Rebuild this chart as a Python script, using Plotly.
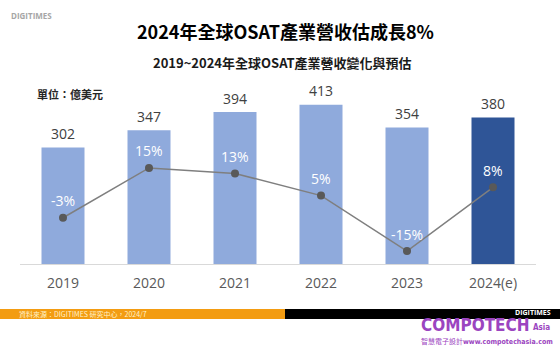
import plotly.graph_objects as go

years = ["2019", "2020", "2021", "2022", "2023", "2024(e)"]
revenue = [302, 347, 394, 413, 354, 380]
growth = [-3, 15, 13, 5, -15, 8]
bar_colors = ["#8faadc", "#8faadc", "#8faadc", "#8faadc", "#8faadc", "#2f5597"]

L, R, T, B = 20, 24, 100, 86
W, H = 560, 350
PW, PH = W - L - R, H - T - B

def px(x):
    return (x - L) / PW

def py(y):
    return (H - B - y) / PH

CJK = "Noto Sans CJK TC"
COND = "DejaVu Sans Condensed"

fig = go.Figure()
fig.add_trace(go.Bar(x=years, y=revenue, marker_color=bar_colors, marker_line_width=0,
                     yaxis="y", showlegend=False, hoverinfo="skip"))
fig.add_trace(go.Scatter(x=years, y=growth, yaxis="y2", mode="lines+markers",
                         line=dict(color="#7f7f7f", width=1.5),
                         marker=dict(color="#595959", size=8), showlegend=False))

ann = []
for i, v in enumerate(revenue):
    ann.append(dict(x=i, y=v, xref="x", yref="y", text=str(v), showarrow=False,
                    yshift=14, font=dict(family="Open Sans, " + CJK, size=14, color="#404040")))
for i, g in enumerate(growth):
    ann.append(dict(x=i, y=g, xref="x", yref="y2", text=f"{g}%", showarrow=False,
                    yshift=17, font=dict(family="Open Sans, " + CJK, size=14, color="#ffffff")))

def txt(x, y, text, font, xanchor="center"):
    return dict(x=px(x), y=py(y), xref="paper", yref="paper", showarrow=False,
                xanchor=xanchor, yanchor="middle", text=text, font=font)

ann += [
    txt(285, 31, "<b>2024年全球OSAT產業營收估成長8%</b>",
        dict(family=CJK, size=18, color="#000000")),
    txt(282, 62, "<b>2019~2024年全球OSAT產業營收變化與預估</b>",
        dict(family=CJK, size=13, color="#1a1a1a")),
    txt(35, 94, "<b>單位：億美元</b>", dict(family=CJK, size=11, color="#262626"), "left"),
    txt(9, 15, "<b>DIGITIMES</b>", dict(family="Open Sans", size=8, color="#a6a6a6"), "left"),
    txt(17, 314, "資料來源：DIGITIMES 研究中心，2024/7",
        dict(family=CJK, size=7, color="#fff2cc"), "left"),
    txt(553, 312, "<b>DIGITIMES</b>", dict(family="Open Sans", size=7, color="#ffffff"), "right"),
    txt(419, 325, "<b>COMPOTECH</b>", dict(family=COND, size=17, color="#9b45c0"), "left"),
    txt(531, 327, "<b>Asia</b>", dict(family=COND, size=8, color="#9b45c0"), "left"),
    txt(419, 341, "智慧電子設計<b>www.compotechasia.com</b>",
        dict(family=COND + ", " + CJK, size=7, color="#9b45c0"), "left"),
]

shapes = [
    dict(type="rect", xref="paper", yref="paper", x0=px(0), x1=px(286), y0=py(319), y1=py(309),
         fillcolor="#f39c12", line_width=0, layer="below"),
    dict(type="rect", xref="paper", yref="paper", x0=px(285), x1=px(560), y0=py(319), y1=py(309),
         fillcolor="#000000", line_width=0, layer="below"),
]

fig.update_layout(
    width=W, height=H,
    margin=dict(l=L, r=R, t=T, b=B, pad=0),
    paper_bgcolor="white", plot_bgcolor="white",
    bargap=0.5,
    xaxis=dict(type="category", range=[-0.5, 5.5], showgrid=False, showline=True,
               linecolor="#d9d9d9", linewidth=1,
               ticks="", tickfont=dict(family="Open Sans", size=14, color="#595959"),
               ticklabelstandoff=6),
    yaxis=dict(range=[0, 425.4], visible=False, showgrid=False),
    yaxis2=dict(range=[-19.69, 39.51], overlaying="y", visible=False, showgrid=False),
    annotations=ann,
    shapes=shapes,
)

fig.write_html("out.html")
